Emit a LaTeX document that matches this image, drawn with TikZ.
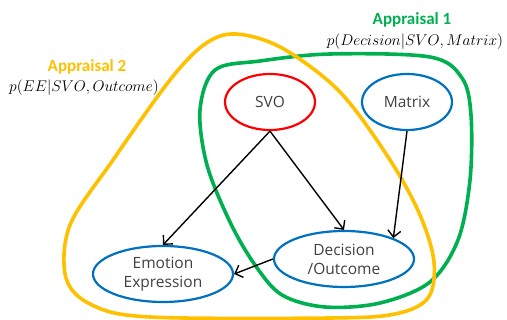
\RequirePackage{fix-cm}
\documentclass[tikz,border=0pt]{standalone}
\usepackage{fontspec}
\setmainfont{Open Sans}
\newfontfamily\titlefont{Carlito}
\usepackage{tikz}
\usetikzlibrary{arrows.meta, positioning, calc, shapes.geometric}
\definecolor{apgold}{HTML}{FFC000}
\definecolor{apgreen}{HTML}{00B050}
\definecolor{nodeblue}{HTML}{0070C0}
\definecolor{nodered}{HTML}{FF0000}
\definecolor{nodetext}{HTML}{404040}

\begin{document}
\begin{tikzpicture}[
    x=1pt, y=-1pt,
    factor/.style={
        ellipse, draw=nodeblue, line width=2.2pt, inner sep=0pt,
        text=nodetext, align=center,
        font=\fontsize{15.5}{19}\selectfont
    },
    cause/.style={
        line width=1.4pt,
        -{Straight Barb[length=6.5pt,width=13pt,line width=1.4pt]}
    },
    appraisal/.style={
        line width=3.6pt, line join=round
    },
    aptitle/.style={font=\titlefont\bfseries\fontsize{17}{20}\selectfont},
    apformula/.style={inner sep=0pt, font=\fontsize{15.5}{19}\selectfont}
]
\useasboundingbox (0,0) rectangle (507,320);

% Appraisal regions
\draw[appraisal, apgreen] plot[smooth cycle, tension=0.55] coordinates {
    (215,70) (260,61) (330,54) (430,57) (462,78) (471,115) (470,180)
    (458,240) (430,282) (380,303) (325,307) (282,295) (255,265)
    (230,222) (207,165) (200,110)};
\draw[appraisal, apgold] plot[smooth cycle, tension=0.55] coordinates {
    (236,34) (282,48) (340,92) (390,160) (420,215) (434,262) (428,298)
    (395,314) (330,318) (150,317) (92,305) (66,278) (70,225) (113,160)
    (170,80) (205,44)};

% Labels
\node[aptitle, text=apgold] (ap2) at (87,67) {Appraisal 2};
\node[apformula] (ap2f) at (84,88) {$p(EE|SVO,Outcome)$};
\node[aptitle, text=apgreen] (ap1) at (412,20) {Appraisal 1};
\node[apformula] (ap1f) at (415,42) {$p(Decision|SVO,Matrix)$};

% Nodes
\node[factor, draw=nodered, minimum width=90pt, minimum height=56pt] (svo) at (270,102) {SVO};
\node[factor, minimum width=90pt, minimum height=56pt] (matrix) at (407,102) {Matrix};
\node[factor, minimum width=140pt, minimum height=56pt] (emotion) at (163,274) {Emotion\\Expression};
\node[factor, minimum width=140pt, minimum height=56pt] (decision) at (344,259) {Decision\\/Outcome};

% Connectors
\draw[cause] (svo.south) -- (emotion.north);
\draw[cause] (svo.south) -- (decision.north);
\draw[cause] (matrix.south) -- (decision.23);
\draw[cause] (decision.west) -- (emotion.east);

\end{tikzpicture}
\end{document}
